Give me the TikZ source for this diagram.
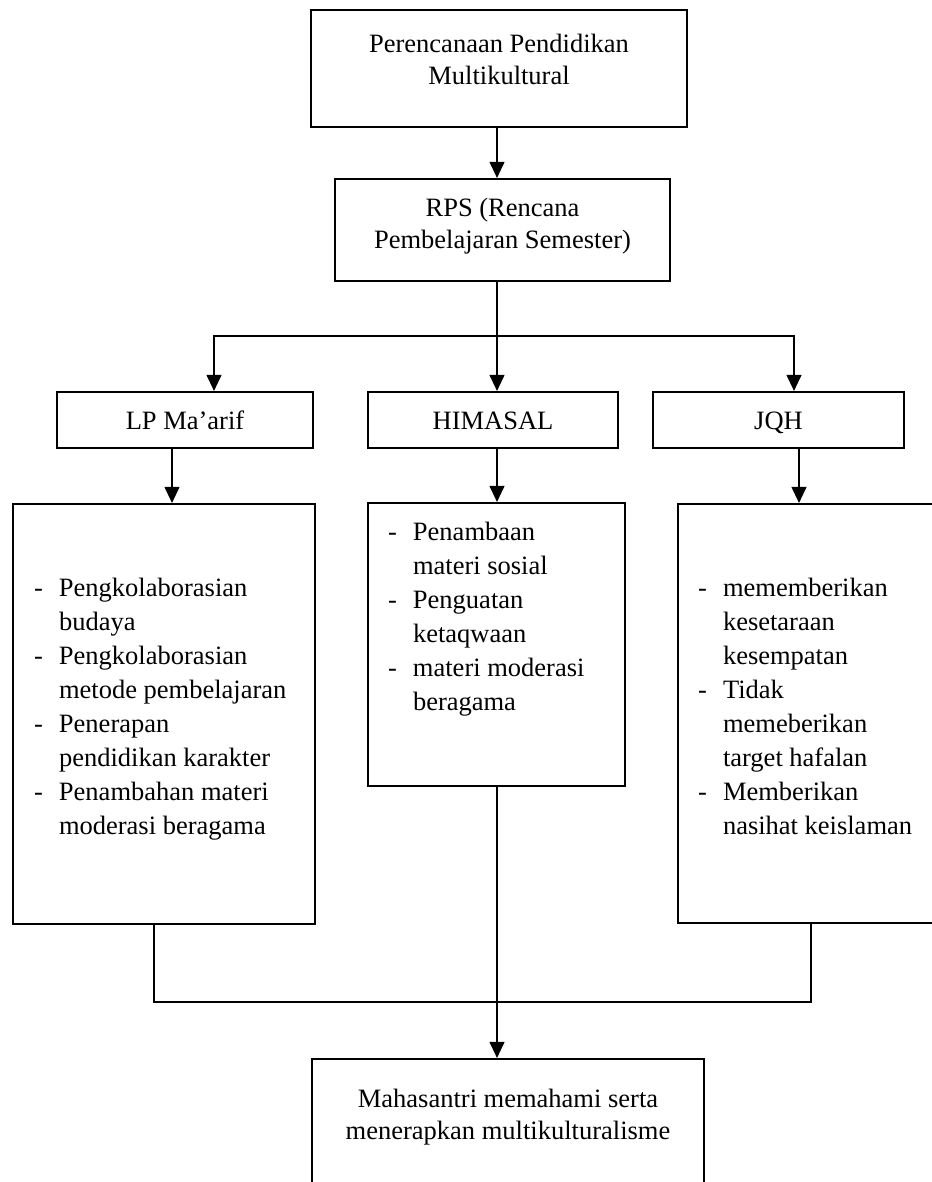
\documentclass[tikz,border=0pt]{standalone}
\usepackage{fontspec}
\setmainfont{Liberation Serif}
\usetikzlibrary{arrows.meta}
% box text: width, height, first baseline from top, lines
\newcommand{\boxtext}[4]{\parbox[c][#2][t]{#1}{\centering\rule{0pt}{#3}#4}}
% list text: width, height, top gap, left gap, rows
\newcommand{\listtext}[5]{\parbox[c][#2][t]{#1}{\vspace*{#3}\hspace*{#4}\begin{tabular}{@{}p{25pt}@{}l@{}}#5\end{tabular}}}
\tikzset{
  planbox/.style={draw, line width=2.2pt, inner sep=0pt, font=\fontsize{26.5}{32}\selectfont},
  listbox/.style={planbox, font=\fontsize{26.5}{34}\selectfont},
  conn/.style={line width=1.1pt},
  arr/.style={conn, -{Triangle[width=15pt,length=16pt]}}
}
\begin{document}
\begin{tikzpicture}[x=1pt,y=-1pt]
  \useasboundingbox (0,0) rectangle (931,1182);
  \node[planbox] (topbox) at (499,68.5) {\boxtext{376pt}{117pt}{43pt}{Perencanaan Pendidikan\\Multikultural}};
  \node[planbox] (rpsbox) at (502.5,230) {\boxtext{335pt}{102pt}{37pt}{RPS (Rencana\\Pembelajaran Semester)}};
  \node[planbox] (lpbox) at (185,420) {\boxtext{256pt}{56pt}{37pt}{LP Ma’arif}};
  \node[planbox] (himbox) at (493,420) {\boxtext{250pt}{56pt}{37pt}{HIMASAL}};
  \node[planbox] (jqhbox) at (778.5,420) {\boxtext{251pt}{56pt}{37pt}{JQH}};
  \node[listbox] (lplist) at (164,714) {\listtext{302pt}{420pt}{69pt}{21pt}{%
    - & Pengkolaborasian\\ & budaya\\
    - & Pengkolaborasian\\ & metode pembelajaran\\
    - & Penerapan\\ & pendidikan karakter\\
    - & Penambahan materi\\ & moderasi beragama}};
  \node[listbox] (himlist) at (496.5,644.5) {\listtext{257pt}{283pt}{14pt}{20pt}{%
    - & Penambaan\\ & materi sosial\\
    - & Penguatan\\ & ketaqwaan\\
    - & materi moderasi\\ & beragama}};
  \node[listbox] (jqhlist) at (819,713.5) {\listtext{282pt}{419pt}{69pt}{20pt}{%
    - & mememberikan\\ & kesetaraan\\ & kesempatan\\
    - & Tidak\\ & memeberikan\\ & target hafalan\\
    - & Memberikan\\ & nasihat keislaman}};
  \node[planbox] (endbox) at (508,1124) {\boxtext{392pt}{130pt}{48pt}{Mahasantri memahami serta\\menerapkan multikulturalisme}};

  \coordinate (split) at (497,336);
  \coordinate (merge) at (497,1002);
  \coordinate (lpin) at (214,0);
  \coordinate (jqhin) at (794,0);
  \coordinate (lpout) at (172,0);
  \coordinate (jqhout) at (799,0);
  \coordinate (lpend) at (154,0);
  \coordinate (jqhend) at (811,0);

  \draw[arr] (topbox.south -| split) -- (rpsbox.north -| split);
  \draw[conn] (rpsbox.south -| split) -- (split);
  \draw[arr] (split) -| (lpbox.north -| lpin);
  \draw[arr] (split) -- (himbox.north -| split);
  \draw[arr] (split) -| (jqhbox.north -| jqhin);
  \draw[arr] (lpbox.south -| lpout) -- (lplist.north -| lpout);
  \draw[arr] (himbox.south -| split) -- (himlist.north -| split);
  \draw[arr] (jqhbox.south -| jqhout) -- (jqhlist.north -| jqhout);
  \draw[conn] (lplist.south -| lpend) |- (merge) -| (jqhlist.south -| jqhend);
  \draw[arr] (himlist.south -| split) -- (endbox.north -| split);
\end{tikzpicture}
\end{document}
